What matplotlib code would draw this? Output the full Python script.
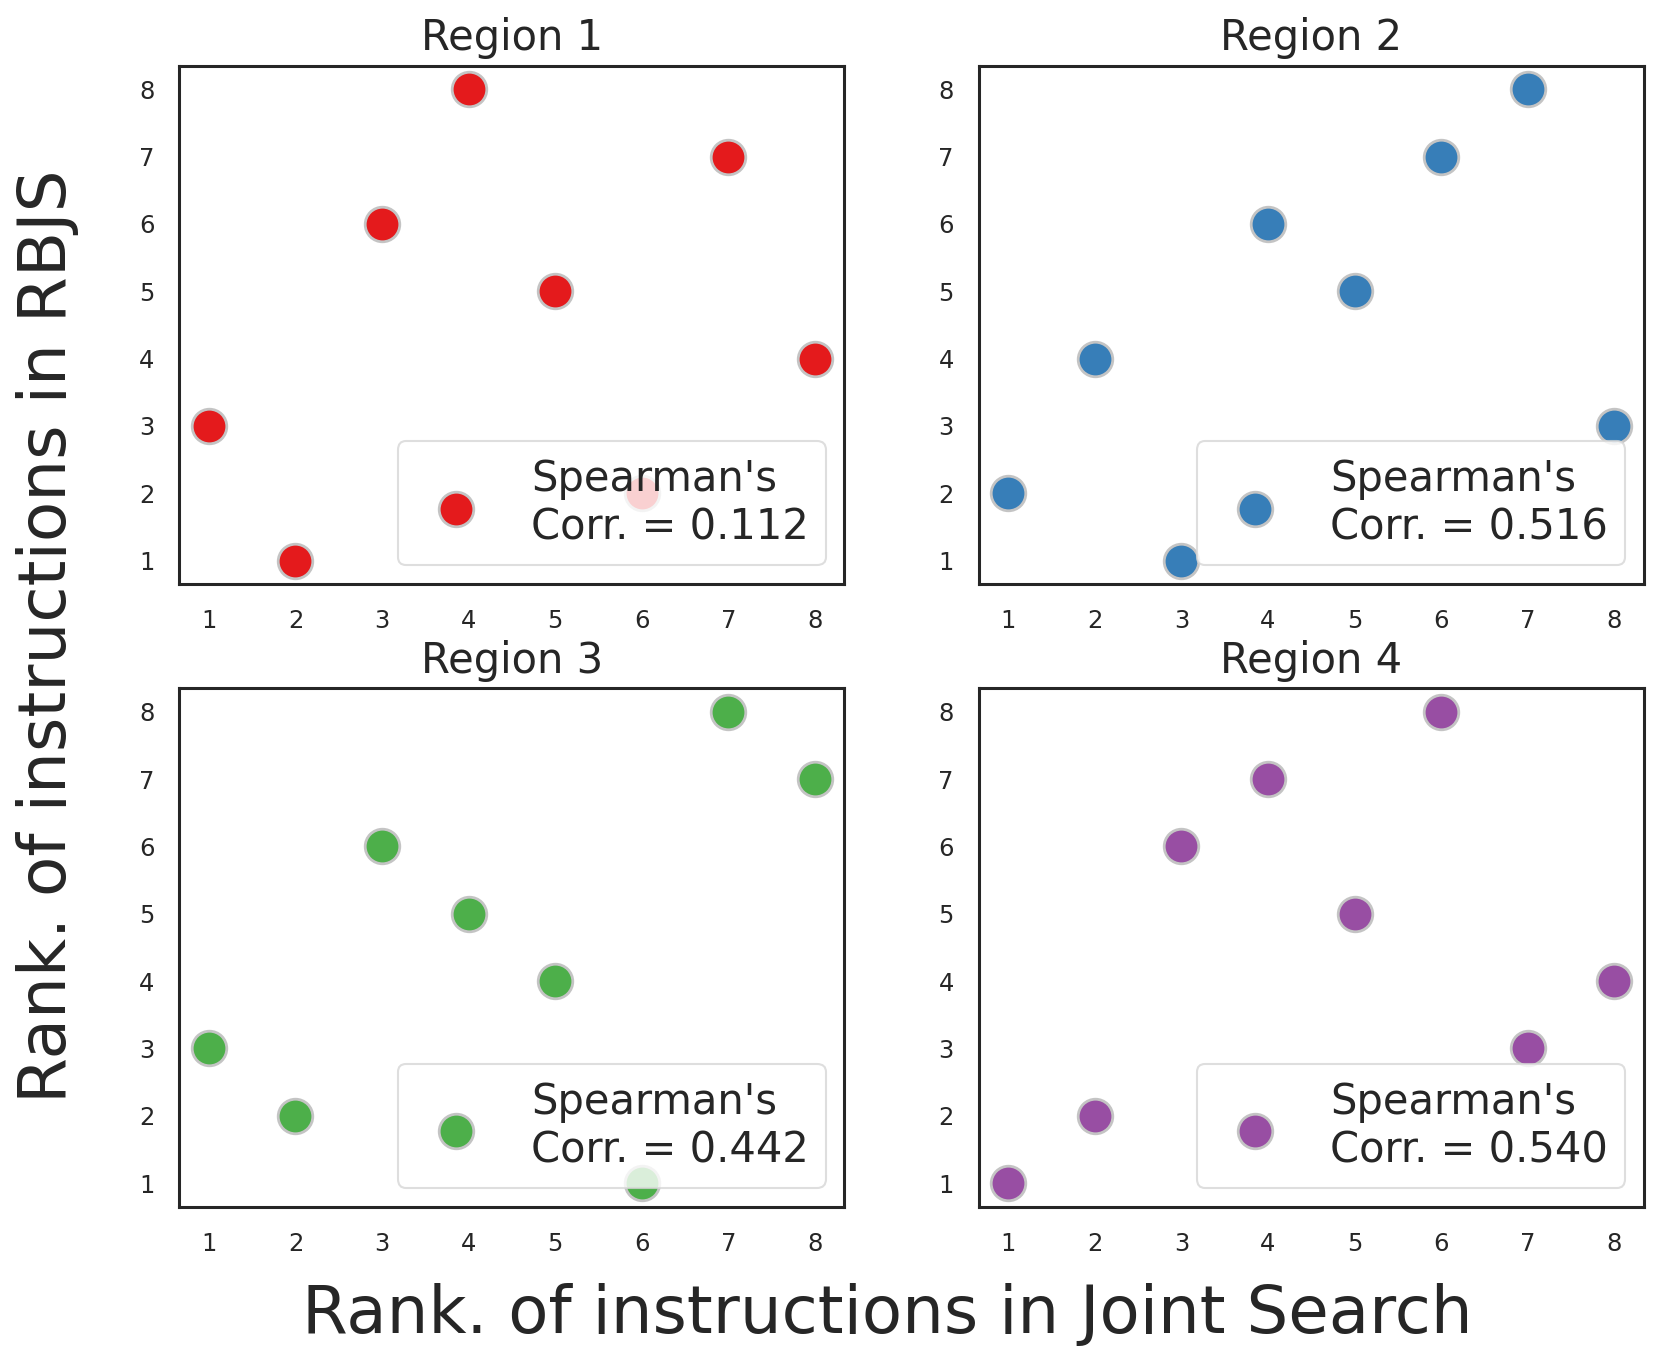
import matplotlib
matplotlib.use("Agg")
import matplotlib.pyplot as plt
import seaborn as sns

sns.set_theme(style="white")
plt.rcParams['font.family'] = ['DejaVu Sans']

titles = ["Region 1", "Region 2", "Region 3", "Region 4"]
x_rank = [1, 2, 3, 4, 5, 6, 7, 8]
y_region1 = [3, 1, 6, 8, 5, 2, 7, 4]
y_region2 = [2, 4, 1, 6, 5, 7, 8, 3]
y_region3 = [3, 2, 6, 5, 4, 1, 8, 7]
y_region4 = [1, 2, 6, 7, 5, 8, 3, 4]
corrs = ["0.112", "0.516", "0.442", "0.540"]
colors = ["#e41a1c", "#377eb8", "#4daf4a", "#984ea3"]
ticks = [1, 2, 3, 4, 5, 6, 7, 8]

ys = [y_region1, y_region2, y_region3, y_region4]

fig = plt.figure(figsize=(16.62, 13.68), dpi=100)
lefts = [0.108, 0.589]
bottoms = [0.573, 0.118]
w = 0.400
h = 0.379

for i in range(4):
    r, c = divmod(i, 2)
    ax = fig.add_axes([lefts[c], bottoms[r], w, h])
    ax.scatter(x_rank, ys[i], s=620, color=colors[i], edgecolor="#c4c4c4",
               linewidth=2, zorder=2,
               label="Spearman's\nCorr. = " + corrs[i])
    ax.set_xlim(0.66, 8.34)
    ax.set_ylim(0.65, 8.35)
    ax.set_xticks(ticks)
    ax.set_yticks(ticks)
    ax.tick_params(axis='x', labelsize=17.5, pad=18, length=0, colors="#262626")
    ax.tick_params(axis='y', labelsize=17.5, pad=18, length=0, colors="#262626")
    for sp in ax.spines.values():
        sp.set_linewidth(2.2)
        sp.set_color("#262626")
    ax.set_title(titles[i], fontsize=30, color="#262626", pad=11)
    leg = ax.legend(loc="lower right", fontsize=30, framealpha=0.8,
                    scatterpoints=1, borderaxespad=0.45)
    leg.get_frame().set_edgecolor("#d6d6d6")
    leg.get_frame().set_linewidth(1.5)
    for t in leg.get_texts():
        t.set_color("#262626")

fig.text(0.029, 0.535, "Rank. of instructions in RBJS", rotation=90,
         fontsize=47.5, color="#262626", ha="center", va="center")
fig.text(0.534, 0.039, "Rank. of instructions in Joint Search",
         fontsize=47.3, color="#262626", ha="center", va="center")

fig.savefig("out.png", dpi=100)
